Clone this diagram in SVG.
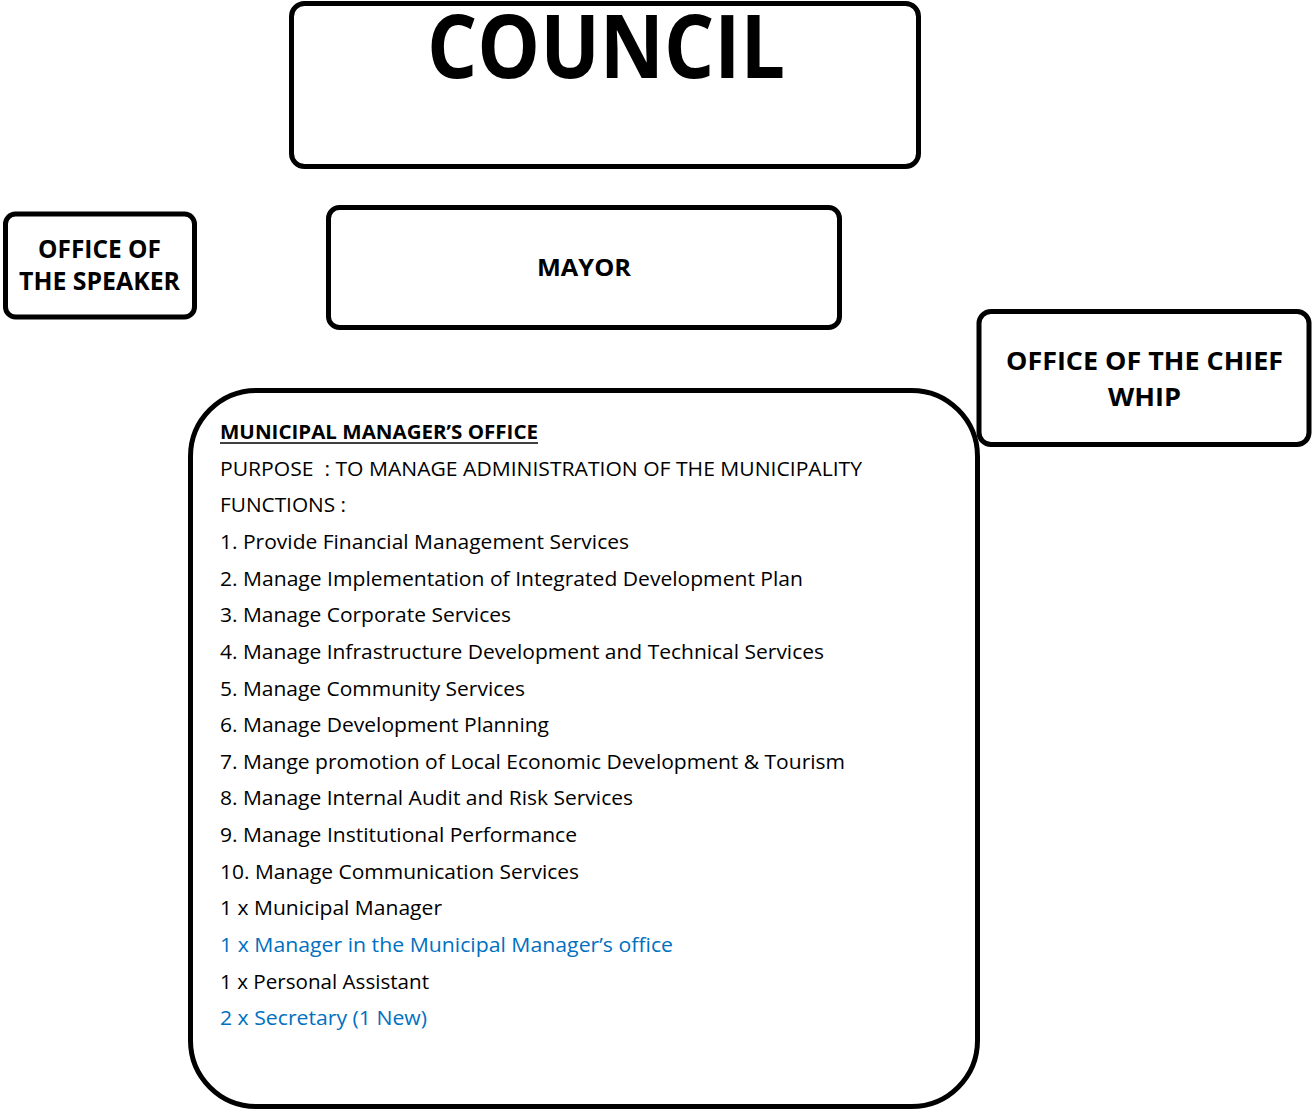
<svg xmlns="http://www.w3.org/2000/svg" width="1312" height="1110" viewBox="0 0 1312 1110">
<style>
.box{fill:#fff;stroke:#000;stroke-width:5}
.t{font-family:"Open Sans","Noto Sans","Liberation Sans",sans-serif;fill:#000}
.b{font-weight:bold}
.c{text-anchor:middle}
.l{font-size:20px}
.blue{fill:#0070C0}
</style>
<rect width="1312" height="1110" fill="#fff"/>
<g id="council">
<rect class="box" x="291.5" y="3.5" width="627" height="163" rx="13"/>
<text class="t b c" x="606" y="78" font-size="88" textLength="358" lengthAdjust="spacingAndGlyphs">COUNCIL</text>
</g>
<g id="speaker">
<rect class="box" x="5.5" y="214" width="189" height="103" rx="10"/>
<text class="t b c" x="99.5" y="258" font-size="25" textLength="123" lengthAdjust="spacingAndGlyphs">OFFICE OF</text>
<text class="t b c" x="99.5" y="290" font-size="25" textLength="161" lengthAdjust="spacingAndGlyphs">THE SPEAKER</text>
</g>
<g id="mayor">
<rect class="box" x="328.5" y="207.5" width="511" height="120" rx="11"/>
<text class="t b c" x="584" y="276" font-size="24" textLength="94" lengthAdjust="spacingAndGlyphs">MAYOR</text>
</g>
<g id="chief-whip">
<rect class="box" x="979" y="311.5" width="330" height="133" rx="12"/>
<text class="t b c" x="1144.5" y="370" font-size="25" textLength="277" lengthAdjust="spacingAndGlyphs">OFFICE OF THE CHIEF</text>
<text class="t b c" x="1144.5" y="406" font-size="25" textLength="73" lengthAdjust="spacingAndGlyphs">WHIP</text>
</g>
<g id="mm-office">
<rect class="box" x="190.5" y="390.5" width="787" height="716" rx="66"/>
<text class="t b l" x="220" y="439" textLength="318" lengthAdjust="spacingAndGlyphs">MUNICIPAL MANAGER’S OFFICE</text>
<line x1="220" y1="443" x2="538" y2="443" stroke="#000" stroke-width="1.6"/>
<text class="t l" x="220" y="476" textLength="642" lengthAdjust="spacingAndGlyphs" xml:space="preserve">PURPOSE  : TO MANAGE ADMINISTRATION OF THE MUNICIPALITY</text>
<text class="t l" x="220" y="512" textLength="126" lengthAdjust="spacingAndGlyphs">FUNCTIONS :</text>
<text class="t l" x="220" y="549" textLength="409" lengthAdjust="spacingAndGlyphs">1. Provide Financial Management Services</text>
<text class="t l" x="220" y="586" textLength="583" lengthAdjust="spacingAndGlyphs">2. Manage Implementation of Integrated Development Plan</text>
<text class="t l" x="220" y="622" textLength="291" lengthAdjust="spacingAndGlyphs">3. Manage Corporate Services</text>
<text class="t l" x="220" y="659" textLength="604" lengthAdjust="spacingAndGlyphs">4. Manage Infrastructure Development and Technical Services</text>
<text class="t l" x="220" y="696" textLength="305" lengthAdjust="spacingAndGlyphs">5. Manage Community Services</text>
<text class="t l" x="220" y="732" textLength="329" lengthAdjust="spacingAndGlyphs">6. Manage Development Planning</text>
<text class="t l" x="220" y="769" textLength="625" lengthAdjust="spacingAndGlyphs">7. Mange promotion of Local Economic Development &amp; Tourism</text>
<text class="t l" x="220" y="805" textLength="413" lengthAdjust="spacingAndGlyphs">8. Manage Internal Audit and Risk Services</text>
<text class="t l" x="220" y="842" textLength="357" lengthAdjust="spacingAndGlyphs">9. Manage Institutional Performance</text>
<text class="t l" x="220" y="879" textLength="359" lengthAdjust="spacingAndGlyphs">10. Manage Communication Services</text>
<text class="t l" x="220" y="915" textLength="222" lengthAdjust="spacingAndGlyphs">1 x Municipal Manager</text>
<text class="t l blue" x="220" y="952" textLength="453" lengthAdjust="spacingAndGlyphs">1 x Manager in the Municipal Manager’s office</text>
<text class="t l" x="220" y="989" textLength="209" lengthAdjust="spacingAndGlyphs">1 x Personal Assistant</text>
<text class="t l blue" x="220" y="1025" textLength="207" lengthAdjust="spacingAndGlyphs">2 x Secretary (1 New)</text>
</g>
<g id="connectors"></g>
</svg>
